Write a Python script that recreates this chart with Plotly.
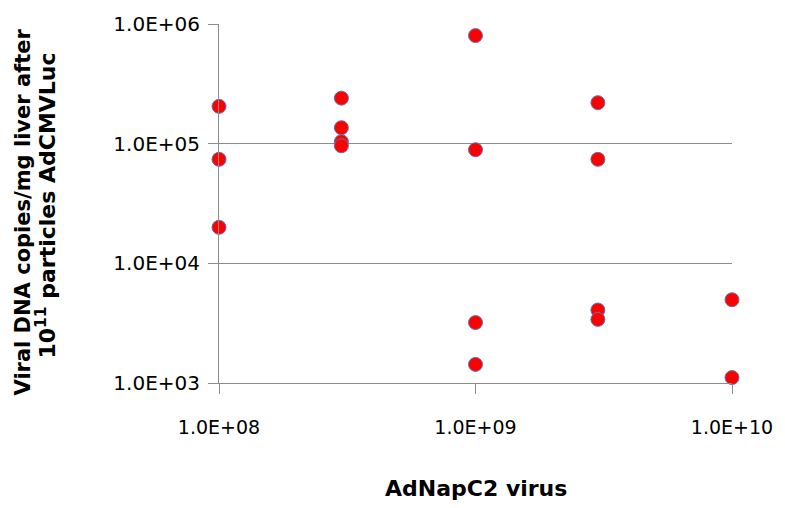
import plotly.graph_objects as go

# Data (log-log scatter)
dose_x = [1e8, 1e8, 1e8,
          3e8, 3e8, 3e8, 3e8,
          1e9, 1e9, 1e9, 1e9,
          3e9, 3e9, 3e9, 3e9,
          1e10, 1e10]
copies_y = [2.05e5, 7.4e4, 2.0e4,
            2.4e5, 1.36e5, 1.04e5, 9.6e4,
            8.0e5, 8.9e4, 3.2e3, 1.43e3,
            2.2e5, 7.4e4, 4.07e3, 3.4e3,
            4.96e3, 1.11e3]

x_tickvals = [1e8, 1e9, 1e10]
x_ticktext = ["1.0E+08", "1.0E+09", "1.0E+10"]
y_tickvals = [1e3, 1e4, 1e5, 1e6]
y_ticktext = ["1.0E+03", "1.0E+04", "1.0E+05", "1.0E+06"]

FONT = "DejaVu Sans, sans-serif"
GRID = "#8c8c8c"

fig = go.Figure()
fig.add_trace(go.Scatter(
    x=dose_x, y=copies_y, mode="markers",
    marker=dict(size=14, color="#ff0000", line=dict(color="#5a76b0", width=1)),
    cliponaxis=False, showlegend=False,
))

fig.update_layout(
    width=785, height=508,
    margin=dict(l=219, r=48, t=19, b=125),
    paper_bgcolor="white", plot_bgcolor="white",
    font=dict(family=FONT, size=20, color="black"),
    xaxis=dict(
        type="log", range=[8, 10],
        tickvals=x_tickvals, ticktext=x_ticktext,
        ticks="outside", ticklen=10, tickcolor=GRID, tickwidth=1,
        showgrid=False, zeroline=False,
        showline=True, linecolor=GRID, linewidth=1,
        tickfont=dict(family=FONT, size=19, color="black"),
        ticklabelstandoff=17,
    ),
    yaxis=dict(
        type="log", range=[3, 6],
        tickvals=y_tickvals, ticktext=y_ticktext,
        ticks="outside", ticklen=10, tickcolor=GRID, tickwidth=1,
        showgrid=True, gridcolor=GRID, gridwidth=1,
        zeroline=False,
        showline=True, linecolor=GRID, linewidth=1,
        tickfont=dict(family=FONT, size=20, color="black"),
        ticklabelstandoff=4,
    ),
    annotations=[
        dict(text="<b>AdNapC2 virus</b>", xref="paper", yref="paper",
             x=0.5, y=0, yshift=-105,
             xanchor="center", yanchor="middle", showarrow=False,
             font=dict(family=FONT, size=22, color="black")),
        dict(text="<b>Viral DNA copies/mg liver after</b>", xref="paper", yref="paper",
             x=0, xshift=-197, y=0.5, yshift=-9, textangle=-90,
             xanchor="center", yanchor="middle", showarrow=False,
             font=dict(family=FONT, size=21, color="black")),
        dict(text="<b>10<sup>11</sup> particles AdCMVLuc</b>", xref="paper", yref="paper",
             x=0, xshift=-174, y=0.5, yshift=-2, textangle=-90,
             xanchor="center", yanchor="middle", showarrow=False,
             font=dict(family=FONT, size=22, color="black")),
    ],
)

fig.write_html("out.html")
